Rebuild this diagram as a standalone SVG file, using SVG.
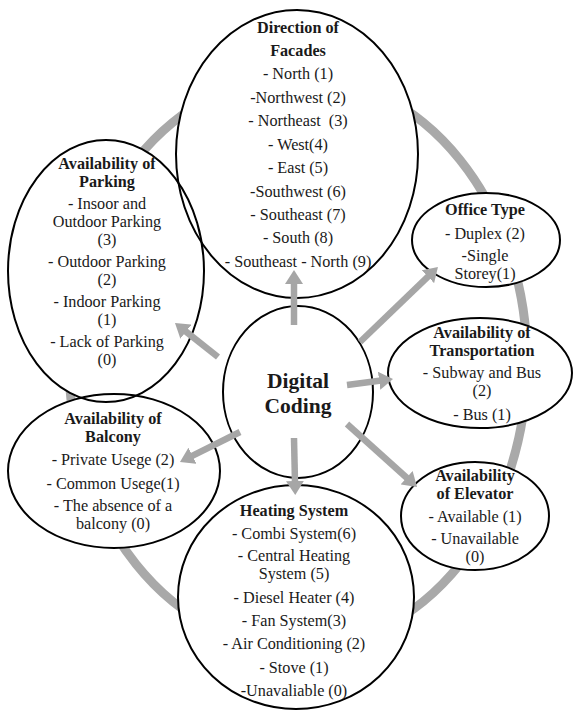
<svg xmlns="http://www.w3.org/2000/svg" width="574" height="713" viewBox="0 0 574 713">
  <style>
    .ring { fill: none; stroke: #a9a9a9; stroke-width: 9; }
    .bg { fill: #ffffff; stroke: none; }
    .node { fill: none; stroke: #000000; stroke-width: 2; }
    .arrow { stroke: #a6a6a6; stroke-width: 6.5; fill: none; marker-end: url(#head); }
    text { font-family: "Liberation Serif", "Times New Roman", serif; font-size: 16.2px; fill: #1a1a1a; text-anchor: middle; white-space: pre; }
    .h { font-weight: bold; }
    .big { font-weight: bold; font-size: 21.5px; }
  </style>
  <defs>
    <marker id="head" markerUnits="userSpaceOnUse" markerWidth="14" markerHeight="18" viewBox="0 0 14 18" refX="2" refY="9" orient="auto">
      <path d="M0,0 L14,9 L0,18 z" fill="#a6a6a6"/>
    </marker>
  </defs>

  <!-- background ring linking the categories -->
  <ellipse class="ring" cx="298" cy="362" rx="229" ry="286"/>

  <!-- white backing so the ring stays behind every ellipse -->
  <g id="backing">
    <ellipse class="bg" cx="297" cy="154" rx="121" ry="144"/>
    <ellipse class="bg" cx="106" cy="271" rx="98" ry="131"/>
    <ellipse class="bg" cx="486" cy="240" rx="74" ry="47"/>
    <ellipse class="bg" cx="480" cy="373" rx="92" ry="55"/>
    <ellipse class="bg" cx="475" cy="516" rx="74" ry="54"/>
    <ellipse class="bg" cx="114" cy="471" rx="106" ry="77"/>
    <ellipse class="bg" cx="296" cy="597" rx="118" ry="112"/>
    <ellipse class="bg" cx="298" cy="392" rx="75" ry="86"/>
  </g>

  <g id="facades">
    <ellipse class="node" cx="297" cy="154" rx="121" ry="144"/>
    <text class="h" x="298" y="33">Direction of</text>
    <text class="h" x="298" y="56">Facades</text>
    <text x="298" y="79">- North (1)</text>
    <text x="298" y="103">-Northwest (2)</text>
    <text x="298" y="126">- Northeast  (3)</text>
    <text x="298" y="150">- West(4)</text>
    <text x="298" y="173">- East (5)</text>
    <text x="298" y="197">-Southwest (6)</text>
    <text x="298" y="220">- Southeast (7)</text>
    <text x="298" y="243">- South (8)</text>
    <text x="298" y="267">- Southeast - North (9)</text>
  </g>

  <g id="parking">
    <ellipse class="node" cx="106" cy="271" rx="98" ry="131"/>
    <text class="h" x="107" y="169">Availability of</text>
    <text class="h" x="107" y="187">Parking</text>
    <text x="107" y="209">- Insoor and</text>
    <text x="107" y="227">Outdoor Parking</text>
    <text x="107" y="245">(3)</text>
    <text x="107" y="267">- Outdoor Parking</text>
    <text x="107" y="285">(2)</text>
    <text x="107" y="307">- Indoor Parking</text>
    <text x="107" y="325">(1)</text>
    <text x="107" y="347">- Lack of Parking</text>
    <text x="107" y="365">(0)</text>
  </g>

  <g id="office-type">
    <ellipse class="node" cx="486" cy="240" rx="74" ry="47"/>
    <text class="h" x="485" y="215">Office Type</text>
    <text x="485" y="239">- Duplex (2)</text>
    <text x="485" y="261">-Single</text>
    <text x="485" y="279">Storey(1)</text>
  </g>

  <g id="transportation">
    <ellipse class="node" cx="480" cy="373" rx="92" ry="55"/>
    <text class="h" x="482" y="338">Availability of</text>
    <text class="h" x="482" y="356">Transportation</text>
    <text x="482" y="378">- Subway and Bus</text>
    <text x="482" y="396">(2)</text>
    <text x="482" y="420">- Bus (1)</text>
  </g>

  <g id="elevator">
    <ellipse class="node" cx="475" cy="516" rx="74" ry="54"/>
    <text class="h" x="475" y="481">Availability</text>
    <text class="h" x="475" y="499">of Elevator</text>
    <text x="475" y="522">- Available (1)</text>
    <text x="475" y="544">- Unavailable</text>
    <text x="475" y="562">(0)</text>
  </g>

  <g id="balcony">
    <ellipse class="node" cx="114" cy="471" rx="106" ry="77"/>
    <text class="h" x="113" y="424">Availability of</text>
    <text class="h" x="113" y="442">Balcony</text>
    <text x="113" y="465">- Private Usege (2)</text>
    <text x="113" y="489">- Common Usege(1)</text>
    <text x="113" y="511">- The absence of a</text>
    <text x="113" y="529">balcony (0)</text>
  </g>

  <g id="heating">
    <ellipse class="node" cx="296" cy="597" rx="118" ry="112"/>
    <text class="h" x="294" y="516">Heating System</text>
    <text x="294" y="539">- Combi System(6)</text>
    <text x="294" y="561">- Central Heating</text>
    <text x="294" y="579">System (5)</text>
    <text x="294" y="603">- Diesel Heater (4)</text>
    <text x="294" y="626">- Fan System(3)</text>
    <text x="294" y="649">- Air Conditioning (2)</text>
    <text x="294" y="673">- Stove (1)</text>
    <text x="294" y="696">-Unavaliable (0)</text>
  </g>

  <g id="digital-coding">
    <ellipse class="node" cx="298" cy="392" rx="75" ry="86"/>
    <text class="big" x="298" y="388">Digital</text>
    <text class="big" x="298" y="413">Coding</text>
  </g>

  <!-- arrows from the centre to each category -->
  <g id="connectors">
    <line class="arrow" x1="294" y1="325" x2="294" y2="282"/>
    <line class="arrow" x1="218" y1="357" x2="184.4" y2="330.4"/>
    <line class="arrow" x1="360" y1="342" x2="429.3" y2="275.3"/>
    <line class="arrow" x1="347" y1="385" x2="381.1" y2="380.5"/>
    <line class="arrow" x1="347" y1="424" x2="408.1" y2="479"/>
    <line class="arrow" x1="240" y1="432" x2="190.7" y2="456.6"/>
    <line class="arrow" x1="294" y1="438" x2="295" y2="483"/>
  </g>
</svg>
